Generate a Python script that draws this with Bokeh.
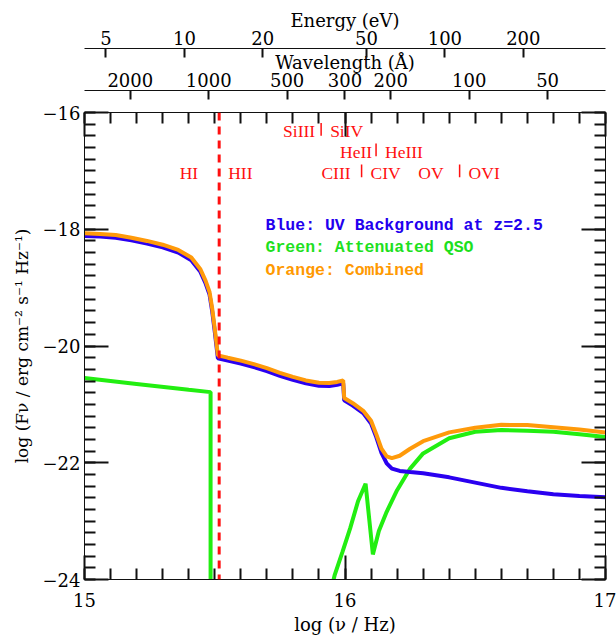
import numpy as np
from bokeh.plotting import figure
from bokeh.models import Range1d, LinearAxis, FixedTicker, LogScale, Span, ColumnDataSource
from bokeh.core.properties import value
from bokeh.embed import file_html
from bokeh.resources import INLINE

# ---------------- data ----------------
log_nu = [15.0, 15.06, 15.12, 15.18, 15.24, 15.30, 15.36, 15.41, 15.445, 15.465, 15.48, 15.49,
          15.50, 15.512, 15.55, 15.60, 15.65, 15.70, 15.75, 15.80, 15.85, 15.90, 15.94, 15.97,
          15.993, 15.997, 16.03, 16.07, 16.10, 16.12, 16.14, 16.16, 16.18, 16.21, 16.25, 16.30,
          16.40, 16.50, 16.60, 16.70, 16.80, 16.90, 17.0]
uv_background = [-18.115, -18.125, -18.145, -18.19, -18.245, -18.31, -18.40, -18.53, -18.73, -18.93,
                 -19.12, -19.40, -19.75, -20.21, -20.25, -20.30, -20.36, -20.43, -20.51, -20.58,
                 -20.64, -20.68, -20.685, -20.665, -20.64, -20.93, -21.02, -21.15, -21.33, -21.56,
                 -21.83, -22.01, -22.10, -22.14, -22.16, -22.18, -22.25, -22.34, -22.43, -22.49,
                 -22.54, -22.57, -22.59]
combined = [-18.07, -18.08, -18.10, -18.145, -18.20, -18.265, -18.355, -18.485, -18.685, -18.885,
            -19.075, -19.35, -19.70, -20.16, -20.20, -20.25, -20.31, -20.38, -20.46, -20.53,
            -20.59, -20.63, -20.635, -20.615, -20.59, -20.89, -20.98, -21.11, -21.28, -21.51,
            -21.76, -21.89, -21.92, -21.88, -21.76, -21.63, -21.48, -21.40, -21.35, -21.355,
            -21.39, -21.43, -21.48]
qso_log_nu = [15.0, 15.2, 15.4, 15.484, 15.484, np.nan, 15.94, 15.96, 15.99, 16.02, 16.05, 16.079,
              16.107, 16.13, 16.16, 16.2, 16.25, 16.3, 16.4, 16.5, 16.6, 16.7, 16.8, 16.9, 17.0]
qso_attenuated = [-20.55, -20.65, -20.75, -20.79, -30.0, np.nan, -24.3, -23.93, -23.53, -23.12,
                  -22.66, -22.36, -23.57, -23.17, -22.84, -22.47, -22.10, -21.84, -21.58, -21.47,
                  -21.44, -21.45, -21.47, -21.51, -21.56]

x_major = [15, 16, 17]
y_major = [-24, -22, -20, -18, -16]
y_labels = ["\u221224", "\u221222", "\u221220", "\u221218", "\u221216"]
energy_ticks = [5, 10, 20, 50, 100, 200]
wave_ticks = [2000, 1000, 500, 300, 200, 100, 50]

edge_ev = [13.6, 33.49, 54.42, 47.89, 113.9]
ion_lo = ["HI", "SiIII", "HeII", "CIII", "OV"]
ion_hi = ["HII", "SiIV", "HeIII", "CIV", "OVI"]
legend_text = ["Blue: UV Background at z=2.5", "Green: Attenuated QSO", "Orange: Combined"]

H_EV = 4.135667696e-15      # eV s
C_ANG = 2.99792458e18       # Angstrom / s

# ---------------- styles / layout ----------------
BLUE, GREEN, ORANGE, RED = "#2a00f0", "#22ee11", "#ff9a0a", "#ff1010"
AX_FONT = "DejaVu Serif"
AX_SIZE = "18px"
LBL_FONT = "Liberation Serif"
LEG_FONT = "Liberation Mono"
TICK_COLOR = "#111111"
TICK_W = 2

row_y = [-17.03, -16.32, -16.68, -17.03, -17.03]
bar_y = [None, -16.29, -16.64, -17.0, -17.0]
left_gap = [-21, -6, -4, -11, -16]
right_gap = 9
legend_x = 15.695
legend_y = [-17.93, -18.32, -18.71]
legend_col = ["#2200ee", "#1ee01e", "#ff9900"]

x0, x1 = 15, 17
p = figure(width=616, height=637, x_range=Range1d(x0, x1), y_range=Range1d(-24, -16),
           output_backend="svg", toolbar_location=None,
           min_border_left=84, min_border_right=11, min_border_top=112, min_border_bottom=57)
p.grid.visible = False
p.outline_line_color = TICK_COLOR
p.background_fill_color = "white"
p.border_fill_color = "white"

x_minor = list(np.round(np.arange(x0, x1 + 1e-9, 0.1), 2))
y_minor = list(np.round(np.arange(-24, -16 + 1e-9, 0.2), 2))


def ticks_in(ax, major, minor):
    ax.major_tick_in = major
    ax.major_tick_out = 0
    ax.minor_tick_in = minor
    ax.minor_tick_out = 0
    ax.axis_line_color = TICK_COLOR
    ax.axis_line_width = 1
    ax.major_tick_line_color = TICK_COLOR
    ax.major_tick_line_width = TICK_W
    ax.minor_tick_line_color = TICK_COLOR
    ax.minor_tick_line_width = TICK_W
    ax.major_label_text_font = AX_FONT
    ax.major_label_text_font_size = AX_SIZE
    ax.major_label_text_color = "black"
    ax.axis_label_text_font = AX_FONT
    ax.axis_label_text_font_size = AX_SIZE
    ax.axis_label_text_font_style = "normal"
    ax.axis_label_text_color = "black"


# bottom
xb = p.xaxis[0]
xb.ticker = FixedTicker(ticks=x_major, minor_ticks=x_minor)
ticks_in(xb, 24, 11)
xb.major_label_standoff = 13
xb.axis_label = "log (\u03bd / Hz)"
xb.axis_label_standoff = 4

# left
yl = p.yaxis[0]
yl.ticker = FixedTicker(ticks=y_major, minor_ticks=y_minor)
ticks_in(yl, 24, 11)
yl.major_label_overrides = {v: s for v, s in zip(y_major, y_labels)}
yl.major_label_standoff = 4
yl.axis_label = "log (F\u03bd / erg cm\u207b\u00b2 s\u207b\u00b9 Hz\u207b\u00b9)"
yl.axis_label_text_font_size = "17px"
yl.axis_label_standoff = 8

# right frame ticks
yr = LinearAxis(ticker=FixedTicker(ticks=y_major, minor_ticks=y_minor))
ticks_in(yr, 24, 11)
yr.major_label_text_color = None
p.add_layout(yr, "right")

# top frame ticks (blank labels reserve the gap up to the wavelength axis)
xt = LinearAxis(ticker=FixedTicker(ticks=x_major, minor_ticks=x_minor))
ticks_in(xt, 24, 11)
xt.major_label_overrides = {v: "\u00a0" for v in x_major}
xt.major_label_text_font_size = "12px"
xt.major_label_standoff = 5
p.add_layout(xt, "above")

# wavelength and energy axes (log scales tied to log nu range)
p.extra_x_ranges = {
    "wave": Range1d(C_ANG / 10 ** x0, C_ANG / 10 ** x1),
    "energy": Range1d(H_EV * 10 ** x0, H_EV * 10 ** x1),
}
p.extra_x_scales = {"wave": LogScale(), "energy": LogScale()}

xw = LinearAxis(x_range_name="wave", ticker=FixedTicker(ticks=wave_ticks, minor_ticks=[]))
ticks_in(xw, 9, 0)
xw.major_label_standoff = 4
xw.axis_label = "Wavelength (\u00c5)"
xw.axis_label_standoff = -3
p.add_layout(xw, "above")

xe = LinearAxis(x_range_name="energy", ticker=FixedTicker(ticks=energy_ticks, minor_ticks=[]))
ticks_in(xe, 9, 0)
xe.major_label_standoff = 4
xe.axis_label = "Energy (eV)"
xe.axis_label_standoff = -3
p.add_layout(xe, "above")

# ---------------- curves ----------------
edge_lognu = [float(np.log10(e / H_EV)) for e in edge_ev]

p.add_layout(Span(location=edge_lognu[0], dimension="height", line_color=RED,
                  line_width=3, line_dash="8 6"))

p.line(np.array(qso_log_nu, dtype=float), np.array(qso_attenuated, dtype=float),
       line_color=GREEN, line_width=4)
p.line(log_nu, uv_background, line_color=BLUE, line_width=4)
p.line(log_nu, combined, line_color=ORANGE, line_width=4)

# ---------------- ion edge labels ----------------
lab_lo = ColumnDataSource(dict(x=edge_lognu, y=row_y, text=ion_lo, xoff=left_gap))
lab_hi = ColumnDataSource(dict(x=edge_lognu, y=row_y, text=ion_hi,
                               xoff=[right_gap] * len(ion_hi)))
p.text(x="x", y="y", text="text", x_offset="xoff", source=lab_lo, text_align="right",
       text_baseline="middle", text_color=RED, text_font=value(LBL_FONT), text_font_size="17.5px")
p.text(x="x", y="y", text="text", x_offset="xoff", source=lab_hi, text_align="left",
       text_baseline="middle", text_color=RED, text_font=value(LBL_FONT), text_font_size="17.5px")

bx = [edge_lognu[i] for i in range(1, len(edge_lognu))]
by = [bar_y[i] for i in range(1, len(edge_lognu))]
p.segment(x0=bx, y0=[b + 0.11 for b in by], x1=bx, y1=[b - 0.11 for b in by],
          line_color=RED, line_width=1.5)

# ---------------- legend text ----------------
leg = ColumnDataSource(dict(x=[legend_x] * 3, y=legend_y, text=legend_text, color=legend_col))
p.text(x="x", y="y", text="text", text_color="color", source=leg, text_align="left",
       text_baseline="middle", text_font=value(LEG_FONT), text_font_style="bold",
       text_font_size="16.5px")

open("out.html", "w").write(file_html(p, INLINE))
